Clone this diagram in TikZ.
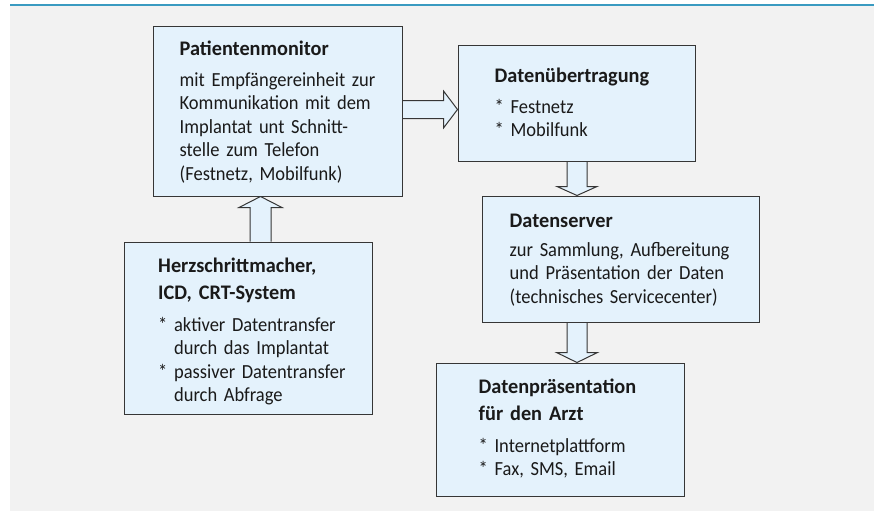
\documentclass[tikz,border=0pt]{standalone}
\usepackage{fontspec}
\setmainfont{Carlito}[FakeStretch=0.925]
\newfontfamily\titlefam{Carlito}[FakeStretch=0.98]
\usetikzlibrary{calc}
\definecolor{pagegray}{HTML}{F2F2F2}
\definecolor{rulecyan}{HTML}{3A9BC1}
\definecolor{boxfill}{HTML}{E4F2FC}
\definecolor{boxline}{HTML}{363636}
\definecolor{inktext}{HTML}{1A1A1A}
\pgfdeclarelayer{pagelayer}
\pgfdeclarelayer{arrowlayer}
\pgfsetlayers{pagelayer,arrowlayer,main}

\begin{document}
\begin{tikzpicture}[x=1pt,y=-1pt,
  box/.style={draw=boxline, fill=boxfill, line width=1pt, inner sep=0pt},
  titletext/.style={anchor=base west, inner sep=0pt, text width=260pt, align=left,
    text=inktext, font=\titlefam\fontsize{20.7}{27}\selectfont\bfseries},
  bodytext/.style={anchor=base west, inner sep=0pt, text width=260pt, align=left,
    text=inktext, font=\fontsize{20}{23.4}\selectfont},
  barrow/.style={draw=boxline, fill=boxfill, line width=1pt, line join=miter}]

  % page background and top rule
  \useasboundingbox (0,0) rectangle (874,511);
  \begin{pgfonlayer}{pagelayer}
    \fill[white] (0,0) rectangle (874,511);
    \fill[pagegray] (10,5) rectangle (874,511);
    \draw[rulecyan, line width=2pt] (10,5) -- (874,5);
  \end{pgfonlayer}

  % boxes
  \node[box, minimum width=249pt, minimum height=169pt] (pm) at (277.5,111.5) {};
  \node[box, minimum width=237pt, minimum height=115pt] (du) at (576.5,103.5) {};
  \node[box, minimum width=248pt, minimum height=172pt] (hs) at (248.5,328) {};
  \node[box, minimum width=277pt, minimum height=126pt] (ds) at (620.5,259) {};
  \node[box, minimum width=248pt, minimum height=133pt] (dp) at (560,429.5) {};

  % box texts
  \node[titletext] (pmT) at ($(pm.north west)+(27,29)$) {Patientenmonitor};
  \node[bodytext] (pmB) at ($(pm.north west)+(27,60)$)
    {mit Empfängereinheit zur\\Kommunikation mit dem\\Implantat unt Schnitt-\\stelle zum Telefon\\(Festnetz, Mobilfunk)};

  \node[titletext] (duT) at ($(du.north west)+(37,37)$) {Datenübertragung};
  \node[bodytext] (duB) at ($(du.north west)+(37,68)$) {* Festnetz\\{}* Mobilfunk};

  \node[titletext] (hsT) at ($(hs.north west)+(34,31)$) {Herzschrittmacher,\\ICD, CRT-System};
  \node[bodytext] (hsB) at ($(hs.north west)+(34,90)$)
    {* aktiver Datentransfer\\\phantom{* }durch das Implantat\\{}* passiver Datentransfer\\\phantom{* }durch Abfrage};

  \node[titletext] (dsT) at ($(ds.north west)+(28,32)$) {Datenserver};
  \node[bodytext] (dsB) at ($(ds.north west)+(28,61)$)
    {zur Sammlung, Aufbereitung\\und Präsentation der Daten\\(technisches Servicecenter)};

  \node[titletext] (dpT) at ($(dp.north west)+(43,31)$) {Datenpräsentation\\für den Arzt};
  \node[bodytext] (dpB) at ($(dp.north west)+(43,90)$) {* Internetplattform\\{}* Fax, SMS, Email};

  % block arrows between the boxes, kept beneath the boxes
  \begin{pgfonlayer}{arrowlayer}
    % Patientenmonitor -> Datenuebertragung
    \coordinate (aS) at (pm.east |- 0,109.5);
    \coordinate (aT) at (du.west |- 0,109.5);
    \draw[barrow] ($(aS)+(0,-9)$) -- ($(aT)+(-14,-9)$) -- ($(aT)+(-14,-18.5)$) -- (aT)
      -- ($(aT)+(-14,18.5)$) -- ($(aT)+(-14,9)$) -- ($(aS)+(0,9)$);
    % Herzschrittmacher -> Patientenmonitor
    \coordinate (bS) at (hs.north -| 260.5,0);
    \coordinate (bT) at (pm.south -| 260.5,0);
    \draw[barrow] ($(bS)+(-10.5,0)$) -- ($(bT)+(-10.5,11)$) -- ($(bT)+(-21.5,11)$) -- (bT)
      -- ($(bT)+(21.5,11)$) -- ($(bT)+(10.5,11)$) -- ($(bS)+(10.5,0)$);
    % Datenuebertragung -> Datenserver
    \coordinate (cS) at (du.south -| 577,0);
    \coordinate (cT) at (ds.north -| 577,0);
    \draw[barrow] ($(cS)+(-10,0)$) -- ($(cT)+(-10,-9)$) -- ($(cT)+(-20,-9)$) -- (cT)
      -- ($(cT)+(20,-9)$) -- ($(cT)+(10,-9)$) -- ($(cS)+(10,0)$);
    % Datenserver -> Datenpraesentation
    \coordinate (dS) at (ds.south -| 577,0);
    \coordinate (dT) at (dp.north -| 577,0);
    \draw[barrow] ($(dS)+(-10,0)$) -- ($(dT)+(-10,-10)$) -- ($(dT)+(-20.5,-10)$) -- (dT)
      -- ($(dT)+(20.5,-10)$) -- ($(dT)+(10,-10)$) -- ($(dS)+(10,0)$);
  \end{pgfonlayer}
\end{tikzpicture}
\end{document}
